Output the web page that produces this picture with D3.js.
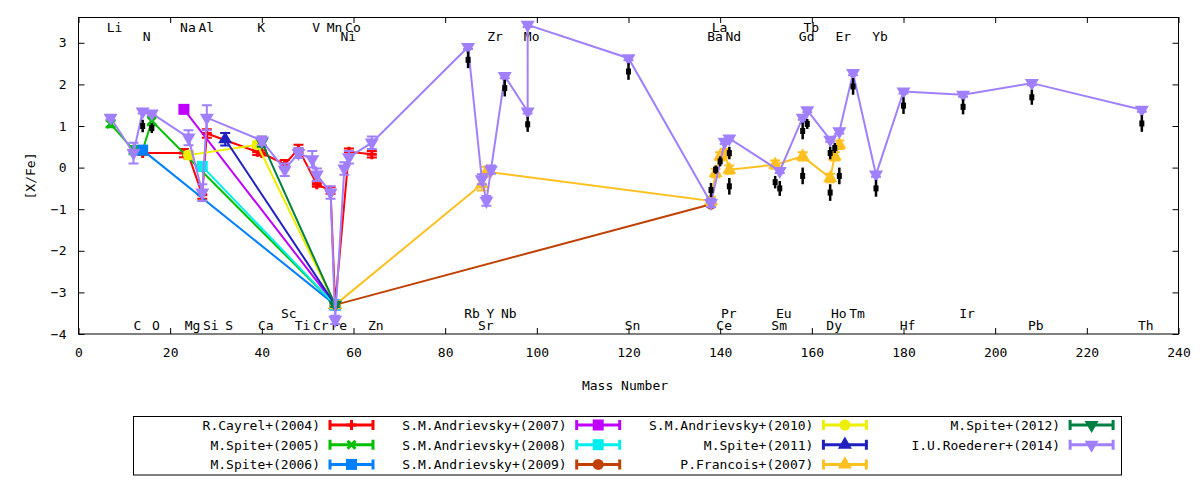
<!DOCTYPE html>
<html>
<head>
<meta charset="utf-8">
<script src="https://cdn.jsdelivr.net/npm/d3@7"></script>
<style>
  body { margin: 0; background: #fff; }
  svg { display: block; }
  text { font-family: 'DejaVu Sans Mono', monospace; font-size: 13px; fill: #000; }
</style>
</head>
<body>
<div id="chart"></div>
<script>
// [mass number, [X/Fe], error]
const cayrel2004 = [[14, 0.35, 0.05], [23, 0.35, 0.1], [24, 0.3, 0.08], [27, -0.65, 0.1], [28, 0.82, 0.1],
  [39, 0.38, 0.08], [40, 0.35, 0.06], [45, 0.08, 0.1], [48, 0.45, 0.1], [52, -0.4, 0.06],
  [55, -0.55, 0.08], [56, -3.3, 0.05], [59, 0.38, 0.08], [64, 0.32, 0.08]];
const spite2005 = [[7, 1.05, 0.08], [12, 0.42, 0.1], [14, 0.42, 0.1], [16, 1.12, 0.1], [56, -3.3, 0.05]];
const spite2006 = [[14, 0.42, 0.08], [56, -3.3, 0.05]];
const andrievsky2007 = [[23, 1.4, 0.05], [56, -3.3, 0.05]];
const andrievsky2008 = [[27, 0.03, 0.1], [56, -3.3, 0.05]];
const andrievsky2009 = [[56, -3.3, 0.05], [138, -0.88, 0.05]];
const andrievsky2010 = [[24, 0.3, 0.08], [39, 0.55, 0.08], [56, -3.3, 0.05]];
const spite2011 = [[32, 0.68, 0.15], [56, -3.3, 0.05]];
const francois2007 = [[56, -3.3, 0.05], [88, -0.4, 0.15], [89, -0.1, 0.12], [138, -0.8, 0.1],
  [139, -0.13, 0.1], [140, 0.27, 0.1], [141, 0.35, 0.1], [142, -0.05, 0.1], [152, 0.07, 0.1],
  [158, 0.27, 0.1], [164, -0.25, 0.1], [165, 0.27, 0.1], [166, 0.55, 0.1]];
const spite2012 = [[40, 0.62, 0.12], [56, -3.3, 0.05]];
const roederer2014 = [[7, 1.2, 0.05], [12, 0.35, 0.25], [14, 1.35, 0.05], [16, 1.3, 0.05], [24, 0.72, 0.18],
  [27, -0.6, 0.2], [28, 1.2, 0.3], [40, 0.65, 0.1], [45, -0.05, 0.15], [48, 0.35, 0.12],
  [51, 0.2, 0.2], [52, -0.17, 0.15], [55, -0.6, 0.15], [56, -3.66, 0.1], [58, -0.02, 0.15],
  [59, 0.25, 0.15], [64, 0.6, 0.15], [85, 2.9, 0.05], [88, -0.28, 0.12], [89, -0.8, 0.12],
  [90, -0.05, 0.1], [93, 2.2, 0.05], [98, 1.35, 0.05], [98, 3.43, 0.05], [120, 2.63, 0.05],
  [138, -0.85, 0.1], [141, 0.62, 0.05], [142, 0.7, 0.05], [153, -0.08, 0.05], [158, 1.2, 0.05],
  [159, 1.38, 0.05], [164, 0.67, 0.05], [166, 0.87, 0.05], [169, 2.27, 0.05], [174, -0.17, 0.05],
  [180, 1.83, 0.05], [193, 1.75, 0.05], [208, 2.03, 0.05], [232, 1.39, 0.05]];
// black error marks
const blackBars = [[14, 1.0, 0.15], [16, 0.95, 0.12], [85, 2.59, 0.2], [93, 1.91, 0.2], [98, 1.04, 0.18],
  [120, 2.31, 0.2], [138, -0.54, 0.17], [139, -0.05, 0.1], [140, 0.15, 0.12], [142, 0.35, 0.15],
  [142, -0.45, 0.2], [152, -0.35, 0.15], [153, -0.5, 0.18], [158, 0.88, 0.2], [159, 1.05, 0.12],
  [158, -0.2, 0.2], [164, 0.35, 0.15], [165, 0.47, 0.12], [166, -0.2, 0.2], [164, -0.6, 0.2],
  [169, 1.95, 0.2], [174, -0.5, 0.2], [180, 1.49, 0.2], [193, 1.46, 0.18], [208, 1.69, 0.18],
  [232, 1.06, 0.2]];

// element labels: [symbol, mass, row]  rows: t1 t2 (top), b1 b2 (bottom)
const elementLabels = [
  ['Li', 7, 't1'], ['Na', 23, 't1'], ['Al', 27, 't1'], ['K', 39, 't1'], ['V', 51, 't1'], ['Mn', 55, 't1'],
  ['Co', 59, 't1'], ['La', 139, 't1'], ['Tb', 159, 't1'],
  ['N', 14, 't2'], ['Ni', 58, 't2'], ['Zr', 90, 't2'], ['Mo', 98, 't2'], ['Ba', 138, 't2'], ['Nd', 142, 't2'],
  ['Gd', 158, 't2'], ['Er', 166, 't2'], ['Yb', 174, 't2'],
  ['Sc', 45, 'b1'], ['Rb', 85, 'b1'], ['Y', 89, 'b1'], ['Nb', 93, 'b1'], ['Pr', 141, 'b1'], ['Eu', 153, 'b1'],
  ['Ho', 165, 'b1'], ['Tm', 169, 'b1'], ['Ir', 193, 'b1'],
  ['C', 12, 'b2'], ['O', 16, 'b2'], ['Mg', 24, 'b2'], ['Si', 28, 'b2'], ['S', 32, 'b2'], ['Ca', 40, 'b2'],
  ['Ti', 48, 'b2'], ['Cr', 52, 'b2'], ['Fe', 56, 'b2'], ['Zn', 64, 'b2'], ['Sr', 88, 'b2'], ['Sn', 120, 'b2'],
  ['Ce', 140, 'b2'], ['Sm', 152, 'b2'], ['Dy', 164, 'b2'], ['Hf', 180, 'b2'], ['Pb', 208, 'b2'], ['Th', 232, 'b2']
];

const xTicks = [0, 20, 40, 60, 80, 100, 120, 140, 160, 180, 200, 220, 240];
const yTicks = [-4, -3, -2, -1, 0, 1, 2, 3];

const series = [
  { name: 'R.Cayrel+(2004)', data: cayrel2004, color: '#ff0000', marker: 'plus' },
  { name: 'M.Spite+(2005)', data: spite2005, color: '#00c000', marker: 'cross' },
  { name: 'M.Spite+(2006)', data: spite2006, color: '#0080ff', marker: 'square' },
  { name: 'S.M.Andrievsky+(2007)', data: andrievsky2007, color: '#c000ff', marker: 'square' },
  { name: 'S.M.Andrievsky+(2008)', data: andrievsky2008, color: '#00eeee', marker: 'square' },
  { name: 'S.M.Andrievsky+(2009)', data: andrievsky2009, color: '#c04000', marker: 'circle' },
  { name: 'S.M.Andrievsky+(2010)', data: andrievsky2010, color: '#eeee00', marker: 'circle' },
  { name: 'M.Spite+(2011)', data: spite2011, color: '#2020c0', marker: 'tri' },
  { name: 'P.Francois+(2007)', data: francois2007, color: '#ffc020', marker: 'tri' },
  { name: 'M.Spite+(2012)', data: spite2012, color: '#008040', marker: 'tridown' },
  { name: 'I.U.Roederer+(2014)', data: roederer2014, color: '#a080ff', marker: 'tridown' }
];

const w = 1200, h = 480;
const svg = d3.select('#chart').append('svg').attr('width', w).attr('height', h);

const x = d3.scaleLinear().domain([0, 240]).range([78.5, 1178.5]);
const y = d3.scaleLinear().domain([-4, 3.62]).range([334, 17]);

// axes, gnuplot style: inward ticks mirrored on all sides
const styleAxis = (g) => {
  g.select('.domain').remove();
  g.selectAll('line').attr('stroke', '#000');
  g.selectAll('text').style('font-family', "'DejaVu Sans Mono', monospace").style('font-size', '13px');
};
svg.append('g').attr('transform', 'translate(0,334)')
  .call(d3.axisBottom(x).tickValues(xTicks).tickSizeInner(-6).tickSizeOuter(0).tickPadding(14))
  .call(styleAxis);
svg.append('g').attr('transform', 'translate(0,17)')
  .call(d3.axisTop(x).tickValues(xTicks).tickSizeInner(-6).tickSizeOuter(0).tickFormat(''))
  .call(styleAxis);
svg.append('g').attr('transform', 'translate(78.5,0)')
  .call(d3.axisLeft(y).tickValues(yTicks).tickSizeInner(-6).tickSizeOuter(0).tickPadding(12))
  .call(styleAxis);
svg.append('g').attr('transform', 'translate(1178.5,0)')
  .call(d3.axisRight(y).tickValues(yTicks).tickSizeInner(-6).tickSizeOuter(0).tickFormat(''))
  .call(styleAxis);

svg.append('rect')
  .attr('x', 78.5).attr('y', 17.5).attr('width', 1100).attr('height', 316.5)
  .attr('fill', 'none').attr('stroke', '#000');

svg.append('text').attr('x', 625).attr('y', 390).attr('text-anchor', 'middle').text('Mass Number');
svg.append('text').attr('transform', 'translate(35,176) rotate(-90)').attr('text-anchor', 'middle').text('[X/Fe]');

// element names
const rowY = { t1: 32, t2: 41, b1: 318, b2: 330 };
svg.append('g').selectAll('text')
  .data(elementLabels)
  .enter()
  .append('text')
  .attr('x', d => x(d[1]) + 4)
  .attr('y', d => rowY[d[2]])
  .attr('text-anchor', 'middle')
  .text(d => d[0]);

function addMarker(g, type, color) {
  if (type === 'plus') {
    g.append('path').attr('d', 'M-5,0H5M0,-5V5').attr('stroke', color).attr('stroke-width', 3);
  } else if (type === 'cross') {
    g.append('path').attr('d', 'M-4,-4L4,4M-4,4L4,-4').attr('stroke', color).attr('stroke-width', 3);
  } else if (type === 'square') {
    g.append('rect').attr('x', -5.5).attr('y', -5.5).attr('width', 11).attr('height', 11).attr('fill', color);
  } else if (type === 'circle') {
    g.append('circle').attr('r', 5.5).attr('fill', color);
  } else {
    g.append('path')
      .attr('d', d3.symbol(d3.symbolTriangle, 85)())
      .attr('transform', type === 'tridown' ? 'rotate(180)' : null)
      .attr('fill', color);
  }
}

const line = d3.line().x(d => x(d[0])).y(d => y(d[1]));
const plot = svg.append('g');

series.forEach((s) => {
  const g = plot.append('g');
  g.append('path')
    .datum(s.data)
    .attr('d', line)
    .attr('fill', 'none')
    .attr('stroke', s.color)
    .attr('stroke-width', 2);

  // error bars with caps
  const eb = g.selectAll('g.err').data(s.data).enter().append('g').attr('class', 'err');
  eb.append('path')
    .attr('d', d => {
      const cx = x(d[0]), y1 = y(d[1] + d[2]), y2 = y(d[1] - d[2]);
      return `M${cx},${y1}V${y2}M${cx - 5},${y1}H${cx + 5}M${cx - 5},${y2}H${cx + 5}`;
    })
    .attr('fill', 'none')
    .attr('stroke', s.color)
    .attr('stroke-width', 2);

  g.selectAll('g.pt').data(s.data).enter().append('g')
    .attr('class', 'pt')
    .attr('transform', d => `translate(${x(d[0])},${y(d[1])})`)
    .each(function() { addMarker(d3.select(this), s.marker, s.color); });
});

// black error marks
const bb = plot.append('g').selectAll('g').data(blackBars).enter().append('g');
bb.append('line')
  .attr('x1', d => x(d[0])).attr('x2', d => x(d[0]))
  .attr('y1', d => y(d[1] + d[2])).attr('y2', d => y(d[1] - d[2]))
  .attr('stroke', '#000').attr('stroke-width', 2.5);
bb.append('rect')
  .attr('x', d => x(d[0]) - 2.5).attr('y', d => y(d[1]) - 3)
  .attr('width', 5).attr('height', 6).attr('fill', '#000');

// legend
const legend = svg.append('g');
legend.append('rect')
  .attr('x', 133.5).attr('y', 416.5).attr('width', 988).attr('height', 58.5)
  .attr('fill', '#fff').attr('stroke', '#000');

const items = legend.selectAll('g.legend-item')
  .data(series)
  .enter()
  .append('g')
  .attr('class', 'legend-item')
  .attr('transform', (d, i) => `translate(${320 + Math.floor(i / 3) * 246.7},${425 + (i % 3) * 19.7})`);

items.append('text')
  .attr('x', 0).attr('y', 5)
  .attr('text-anchor', 'end')
  .text(d => d.name);

items.append('path')
  .attr('d', 'M10,0H53M10,-5V5M53,-5V5')
  .attr('fill', 'none')
  .attr('stroke', d => d.color)
  .attr('stroke-width', 3);

items.each(function(d) {
  const m = d3.select(this).append('g').attr('transform', 'translate(31.5,0)');
  addMarker(m, d.marker, d.color);
});
</script>
</body>
</html>
